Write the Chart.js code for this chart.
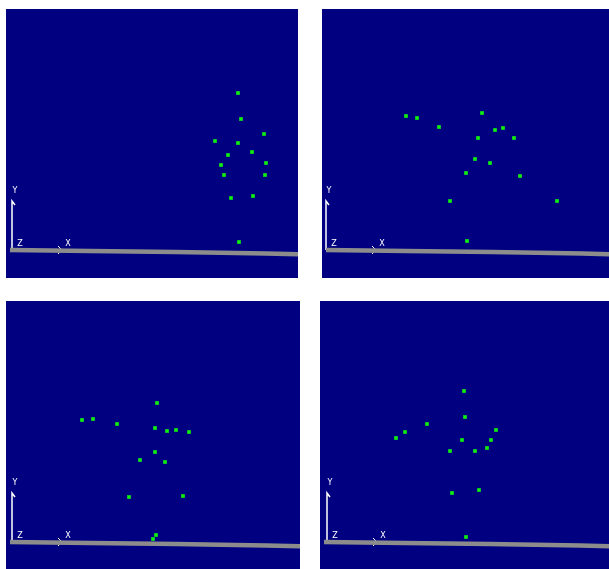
<!DOCTYPE html>
<html>
<head>
<meta charset="utf-8">
<script src="https://cdn.jsdelivr.net/npm/chart.js@4"></script>
<style>
  body { margin: 0; background: #fff; width: 609px; height: 569px; overflow: hidden; }
  canvas { position: absolute; background: #000080; }
</style>
</head>
<body>
<canvas id="c1" width="292" height="269" style="left:6px;top:9px"></canvas>
<canvas id="c2" width="287" height="269" style="left:322px;top:9px"></canvas>
<canvas id="c3" width="294" height="268" style="left:6px;top:301px"></canvas>
<canvas id="c4" width="289" height="268" style="left:320px;top:301px"></canvas>
<script>
// marker positions per view (panel-local units, y measured from top)
const p1X = [232, 235, 258, 209, 232, 246, 222, 260, 215, 218, 259, 225, 247, 233];
const p1Y = [84, 110, 125, 132, 134, 143, 146, 154, 156, 166, 166, 189, 187, 233];

const p2X = [84, 95, 117, 160, 173, 181, 156, 192, 153, 168, 144, 198, 128, 235, 145];
const p2Y = [107, 109, 118, 104, 121, 119, 129, 129, 150, 154, 164, 167, 192, 192, 232];

const p3X = [151, 76, 87, 111, 149, 161, 170, 183, 149, 134, 159, 123, 177, 150, 147];
const p3Y = [102, 119, 118, 123, 127, 130, 129, 131, 151, 159, 161, 196, 195, 234, 238];

const p4X = [144, 145, 107, 85, 76, 176, 142, 171, 130, 155, 167, 132, 159, 146];
const p4Y = [90, 116, 123, 131, 137, 129, 139, 139, 150, 150, 147, 192, 189, 236];

// floor line
const floorX = [4, 84, 170, 260, 300];
const floorY = [241, 242, 243, 244.5, 245.5];

// axis triad
const axisUpY = [241, 192];
const axisLabels = ["Y", "Z", "X"];

function pts(xs, ys) {
  return xs.map((x, i) => ({ x, y: ys[i] }));
}

// draws the triad letters at data positions
const labelPlugin = {
  id: "triadLabels",
  afterDatasetsDraw(chart, args, opts) {
    const { ctx, scales } = chart;
    const ox = opts.ox;
    const spots = [[ox + 3, axisUpY[1] - 10], [ox + 8, 235], [ox + 56, 235]];
    ctx.save();
    ctx.fillStyle = "#ffffff";
    ctx.font = "8px 'DejaVu Sans'";
    ctx.textAlign = "center";
    ctx.textBaseline = "middle";
    axisLabels.forEach((t, i) => {
      ctx.fillText(t, scales.x.getPixelForValue(spots[i][0]), scales.y.getPixelForValue(spots[i][1]));
    });
    ctx.restore();
  }
};

function makeView(id, xs, ys, ox) {
  const el = document.getElementById(id);
  const w = el.width, h = el.height;
  new Chart(el, {
    type: "scatter",
    data: {
      datasets: [
        {
          type: "line",
          data: pts(floorX, floorY),
          borderColor: "#8c8c8c",
          borderWidth: 4.5,
          pointRadius: 0,
          tension: 0
        },
        {
          type: "line",
          data: pts([ox, ox, ox + 3], [axisUpY[0], axisUpY[1], axisUpY[1] + 4]),
          borderColor: "#ffffff",
          borderWidth: 1.5,
          pointRadius: 0,
          tension: 0
        },
        {
          type: "line",
          data: pts([ox + 46, ox + 50, ox + 46], [237, 241, 245]),
          borderColor: "#ffffff",
          borderWidth: 1,
          pointRadius: 0,
          tension: 0
        },
        {
          data: pts(xs, ys),
          backgroundColor: "#10f010",
          borderColor: "#10f010",
          pointStyle: "rect",
          pointRadius: 2.6,
          borderWidth: 0
        }
      ]
    },
    options: {
      responsive: false,
      animation: false,
      layout: { padding: 0, autoPadding: false },
      plugins: { legend: { display: false }, tooltip: { enabled: false }, triadLabels: { ox } },
      scales: {
        x: { type: "linear", min: 0, max: w, display: false },
        y: { type: "linear", min: 0, max: h, reverse: true, display: false }
      }
    },
    plugins: [labelPlugin]
  });
}

makeView("c1", p1X, p1Y, 6);
makeView("c2", p2X, p2Y, 4);
makeView("c3", p3X, p3Y, 6);
makeView("c4", p4X, p4Y, 7);
</script>
</body>
</html>
